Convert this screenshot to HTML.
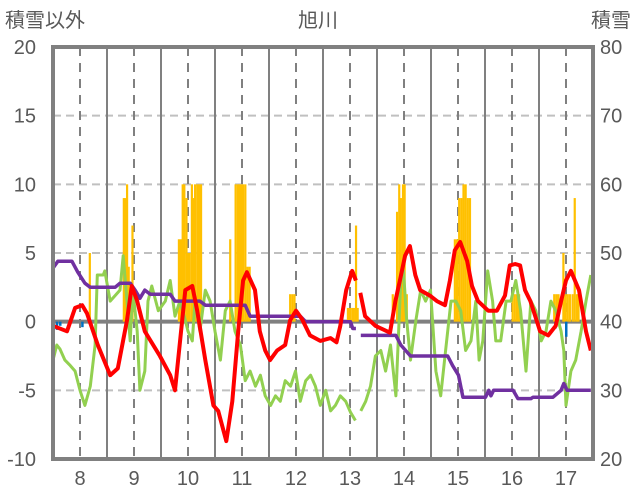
<!DOCTYPE html>
<html><head><meta charset="utf-8"><style>
html,body{margin:0;padding:0;background:#fff;}
svg{display:block;font-family:"Liberation Sans","Noto Sans CJK JP",sans-serif;}
</style></head><body>
<svg id="chart" width="636" height="501" viewBox="0 0 636 501" xmlns="http://www.w3.org/2000/svg">
<g id="grid"></g>
<g id="bars"></g>
<g id="lines"></g>
<g id="frame"></g>
<g id="labels" fill="#595959" font-size="20">
<text x="5" y="27">積雪以外</text>
<text x="318" y="27" text-anchor="middle">旭川</text>
<text x="631" y="27" text-anchor="end">積雪</text>
</g>
</svg>
<script>
const months = ["8","9","10","11","12","13","14","15","16","17"];
const leftTicks = [20,15,10,5,0,-5,-10];
const rightTicks = [80,70,60,50,40,30,20];
const redT = [0,.26,.41,.54,.63,.83,1.06,1.2,1.37,1.46,1.56,1.7,1.98,2.17,2.26,2.45,2.58,2.67,2.82,2.97,3.06,3.21,3.32,3.43,3.52,3.59,3.74,3.83,3.93,4.02,4.15,4.3,4.39,4.5,4.61,4.76,4.95,5.14,5.25,5.32,5.43,5.54,5.61,null,5.69,5.78,5.97,6.24,6.34,6.43,6.52,6.61,6.71,6.8,6.98,7.11,7.26,7.35,7.44,7.54,7.67,7.76,7.87,8.06,8.22,8.37,8.46,8.56,8.65,8.74,8.84,9.02,9.17,9.31,9.41,9.5,9.59,9.74,9.87,9.96];
const redV = [-0.3,-0.7,1.0,1.2,0.6,-1.7,-3.9,-3.4,0.1,2.6,1.5,-0.7,-2.5,-3.9,-5.0,2.3,2.6,0.8,-2.8,-6.1,-6.5,-8.7,-5.8,-0.7,3.0,3.6,2.3,-0.7,-2.1,-2.8,-2.1,-1.7,0.1,0.8,0.2,-1.0,-1.4,-1.2,-1.5,-0.3,2.3,3.7,3.0,null,2.1,0.4,-0.3,-0.8,1.5,3.1,4.8,5.5,3.4,2.3,1.9,1.5,1.2,3.0,5.2,5.8,4.4,2.6,1.5,0.8,0.8,1.9,4.1,4.2,4.1,2.3,1.5,-0.7,-1.0,-0.3,1.5,3.0,3.7,2.3,-0.7,-2.1];
const greenT = [0,.07,.13,.22,.32,.41,.5,.59,.69,.78,.82,.93,.96,1.06,1.15,1.24,1.3,1.37,1.43,1.48,1.56,1.61,1.7,1.76,1.83,1.95,2.08,2.17,2.26,2.35,2.45,2.5,2.58,2.63,2.72,2.82,2.91,3.0,3.1,3.19,3.28,3.37,3.47,3.56,3.65,3.75,3.84,3.93,4.03,4.12,4.21,4.3,4.4,4.49,4.58,4.68,4.77,4.86,4.95,5.05,5.14,5.23,5.32,5.42,5.51,5.6,null,5.7,5.79,5.88,5.97,6.07,6.16,6.25,6.35,6.44,6.49,6.55,6.62,6.72,6.81,6.9,6.99,7.09,7.18,7.27,7.37,7.46,7.55,7.64,7.74,7.83,7.89,7.96,8.05,8.14,8.2,8.29,8.39,8.48,8.57,8.66,8.76,8.85,8.94,9.04,9.13,9.22,9.31,9.41,9.46,9.5,9.59,9.68,9.78,9.87,9.96];
const greenV = [-2.8,-1.7,-2.0,-2.8,-3.2,-3.6,-5.0,-6.1,-4.7,-1.7,3.4,3.4,3.7,1.5,1.9,2.3,4.8,1.5,-1.4,2.3,-0.7,-5.0,-3.6,1.5,2.6,0.8,1.5,3.0,0.4,1.5,0.1,-0.7,-1.4,1.5,-0.7,2.3,1.5,-0.7,-2.8,0.8,1.5,-0.7,-1.7,-4.3,-3.6,-4.7,-3.9,-5.4,-6.1,-5.4,-5.8,-4.3,-4.7,-3.6,-5.8,-4.3,-3.9,-4.7,-6.1,-5.0,-6.5,-6.1,-5.4,-5.8,-6.6,-7.2,null,-6.5,-5.8,-4.7,-2.5,-2.1,-3.6,-1.7,-5.4,3.0,3.7,0.1,-2.8,0.1,2.3,1.5,2.3,-3.6,-5.4,-2.1,1.5,1.5,0.8,-2.1,-1.4,1.5,-2.8,-1.4,3.7,1.5,-1.4,-1.4,1.5,1.5,3.0,0.8,-3.6,1.5,0.8,-1.4,-0.7,1.5,0.8,-0.7,-2.1,-6.1,-3.6,-2.8,-0.7,1.5,3.4];
const purpleT = [0,.09,.35,.46,.59,.69,1.15,1.24,1.43,1.52,1.61,1.7,1.8,2.17,2.26,2.72,2.82,3.56,3.65,4.58,4.68,5.51,5.55,5.61,null,5.7,6.35,6.44,6.62,7.31,7.4,7.51,7.59,8.01,8.07,8.11,8.16,8.52,8.61,8.85,8.89,9.26,9.41,9.46,9.52,9.96];
const purpleV = [3.9,4.4,4.4,3.6,2.8,2.5,2.5,2.8,2.8,2.3,1.7,2.3,2.0,2.0,1.5,1.5,1.2,1.2,0.4,0.4,0,0,-0.5,-0.5,null,-1.0,-1.0,-1.7,-2.5,-2.5,-3.2,-3.9,-5.5,-5.5,-5.0,-5.4,-5.0,-5.0,-5.6,-5.6,-5.5,-5.5,-5.0,-4.5,-5.0,-5.0];
const snowT = [0.68,1.31,1.34,1.37,1.40,1.44,1.47,2.33,2.37,2.40,2.43,2.47,2.50,2.53,2.57,2.60,2.63,2.67,2.70,2.74,3.28,3.38,3.42,3.45,3.49,3.52,3.56,3.60,3.64,4.39,4.43,4.47,5.46,5.50,5.54,5.57,5.61,5.64,6.29,6.37,6.41,6.44,6.48,6.51,6.55,7.44,7.48,7.52,7.56,7.60,7.64,7.68,7.72,8.51,8.55,8.59,8.63,9.28,9.32,9.36,9.45,9.49,9.53,9.57,9.62,9.66,9.70,9.73];
const snowV = [5,9,9,10,4,2,7,6,6,10,10,9,5,5,10,9,10,10,10,10,6,10,10,10,10,10,10,4,4,2,2,2,1,1,1,1,7,1,2,8,10,9,10,10,2,6,6,9,9,10,10,9,9,2,2,2,2,2,2,2,5,2,2,2,2,9,2,2];
const blueT = [0.07,0.13,0.54,9.3,9.5];
const blueV = [-0.6,-0.3,-0.4,-0.5,-1.1];

const X0=53, X1=593, Y0=47, Y1=459;
const xs = t => X0 + t*(X1-X0)/months.length;
const ys = v => Y1 - (v+10)*(Y1-Y0)/30;
const NS="http://www.w3.org/2000/svg";
function mk(tag, attrs, parent){const e=document.createElementNS(NS,tag);for(const k in attrs)e.setAttribute(k,attrs[k]);parent.appendChild(e);return e;}
const grid=document.getElementById('grid'), bars=document.getElementById('bars'), lines=document.getElementById('lines'), frame=document.getElementById('frame'), labels=document.getElementById('labels');

leftTicks.forEach((v,i)=>{
  if(v!==0 && v!==20 && v!==-10){
    const l=mk('line',{x1:X0,x2:X1,y1:ys(v),y2:ys(v),stroke:'#c0c0c0','stroke-width':2,'stroke-dasharray':'8,5'},grid);
    
    
  }
  const t=mk('text',{x:36,y:ys(v)+7,'text-anchor':'end'},labels);
  t.textContent=v;
  
  
  const r=mk('text',{x:600,y:ys(v)+7},labels);
  r.textContent=rightTicks[i];
  
  
});
months.forEach((m,i)=>{
  if(i>0){const l=mk('line',{x1:xs(i),x2:xs(i),y1:Y0,y2:Y1,stroke:'#808080','stroke-width':2},grid);
  
  }
  const d=mk('line',{x1:xs(i+.5),x2:xs(i+.5),y1:Y0,y2:Y1,stroke:'#808080','stroke-width':2,'stroke-dasharray':'9,7'},grid);
  
  
  const t=mk('text',{x:xs(i+.5),y:485,'text-anchor':'middle'},labels);
  t.textContent=m;
  
  
});
snowT.forEach((t,i)=>{
  const b=mk('rect',{x:xs(t)-1,y:ys(snowV[i]),width:2.2,height:ys(0)-ys(snowV[i]),fill:'#ffc000'},bars);
  
  
});
blueT.forEach((t,i)=>{
  const b=mk('rect',{x:xs(t)-1,y:ys(0),width:2.5,height:ys(blueV[i])-ys(0),fill:'#0070c0'},bars);
  
  
});
const z=mk('line',{x1:X0,x2:X1,y1:ys(0),y2:ys(0),stroke:'#808080','stroke-width':4},grid);


function path(T,V){let d='',pen=false;T.forEach((t,i)=>{if(t===null||V[i]===null){pen=false;return;}d+=(pen?'L':'M')+xs(t).toFixed(1)+','+ys(V[i]).toFixed(1);pen=true;});return d;}
const g=mk('path',{d:path(greenT,greenV),fill:'none',stroke:'#92d050','stroke-width':3,'stroke-linejoin':'round'},lines);


const p=mk('path',{d:path(purpleT,purpleV),fill:'none',stroke:'#7030a0','stroke-width':3.5,'stroke-linejoin':'round'},lines);


const r=mk('path',{d:path(redT,redV),fill:'none',stroke:'#ff0000','stroke-width':4,'stroke-linejoin':'round'},lines);


const f=mk('rect',{x:X0,y:Y0,width:X1-X0,height:Y1-Y0,fill:'none',stroke:'#808080','stroke-width':4},frame);


</script>
</body></html>
